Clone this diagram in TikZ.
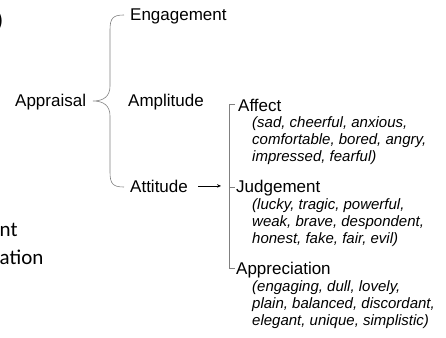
\documentclass[tikz,border=0pt]{standalone}
\usepackage{fontspec}
\setmainfont{Liberation Sans}
\newfontfamily\slidefont{Carlito}
\usetikzlibrary{arrows.meta}
\tikzset{
  term/.style={anchor=base west, inner sep=0pt, font=\fontsize{17}{20}\selectfont},
  examples/.style={anchor=base west, inner sep=0pt, align=left, font=\fontsize{15}{17}\selectfont\itshape},
  cutoff/.style={anchor=base west, inner sep=0pt, font=\slidefont\fontsize{21}{25}\selectfont},
  bracket/.style={draw=black!50, line width=0.6pt}
}
\begin{document}
\begin{tikzpicture}[x=1pt, y=-1pt]
\useasboundingbox (0,0) rectangle (446,337);
% text cut off at the left edge
\node[cutoff, anchor=east] (paren) at (3.5,21.5) {)};
\node[cutoff] (frag1) at (-0.5,236) {nt};
\node[cutoff] (frag2) at (-0.5,264) {ation};
% appraisal and its three parts
\node[term] (appraisal) at (15,106) {Appraisal};
\node[term] (engagement) at (130,21) {Engagement};
\node[term] (amplitude) at (128,106) {Amplitude};
\node[term] (attitude) at (130,192) {Attitude};
\draw[bracket] (124,15) .. controls (113,15) and (110,18) .. (110,30) -- (110,86)
  .. controls (110,96) and (104,101) .. (93,101)
  .. controls (104,101) and (110,106) .. (110,116) -- (110,172)
  .. controls (110,184) and (113,187) .. (124,187);
% attitude (base anchor sits on the last line)
\node[term] (affect) at (238,111) {Affect};
\node[examples] (affectex) at (252,161) {(sad, cheerful, anxious,\\comfortable, bored, angry,\\impressed, fearful)};
\node[term] (judgement) at (236,192) {Judgement};
\node[examples] (judgementex) at (252,243) {(lucky, tragic, powerful,\\weak, brave, despondent,\\honest, fake, fair, evil)};
\node[term] (appreciation) at (236,274) {Appreciation};
\node[examples] (appreciationex) at (252,325) {(engaging, dull, lovely,\\plain, balanced, discordant,\\elegant, unique, simplistic)};
\draw[bracket] (235,104) -- (229,104) -- (229,268) -- (235,268);
\draw[bracket] (229,187) -- (235,187);
\draw[-{Stealth[length=4pt,width=3.5pt]}, line width=0.7pt] ([xshift=10pt]attitude.east) -- ([xshift=-15pt]attitude.east -| judgement.west);
\end{tikzpicture}
\end{document}
